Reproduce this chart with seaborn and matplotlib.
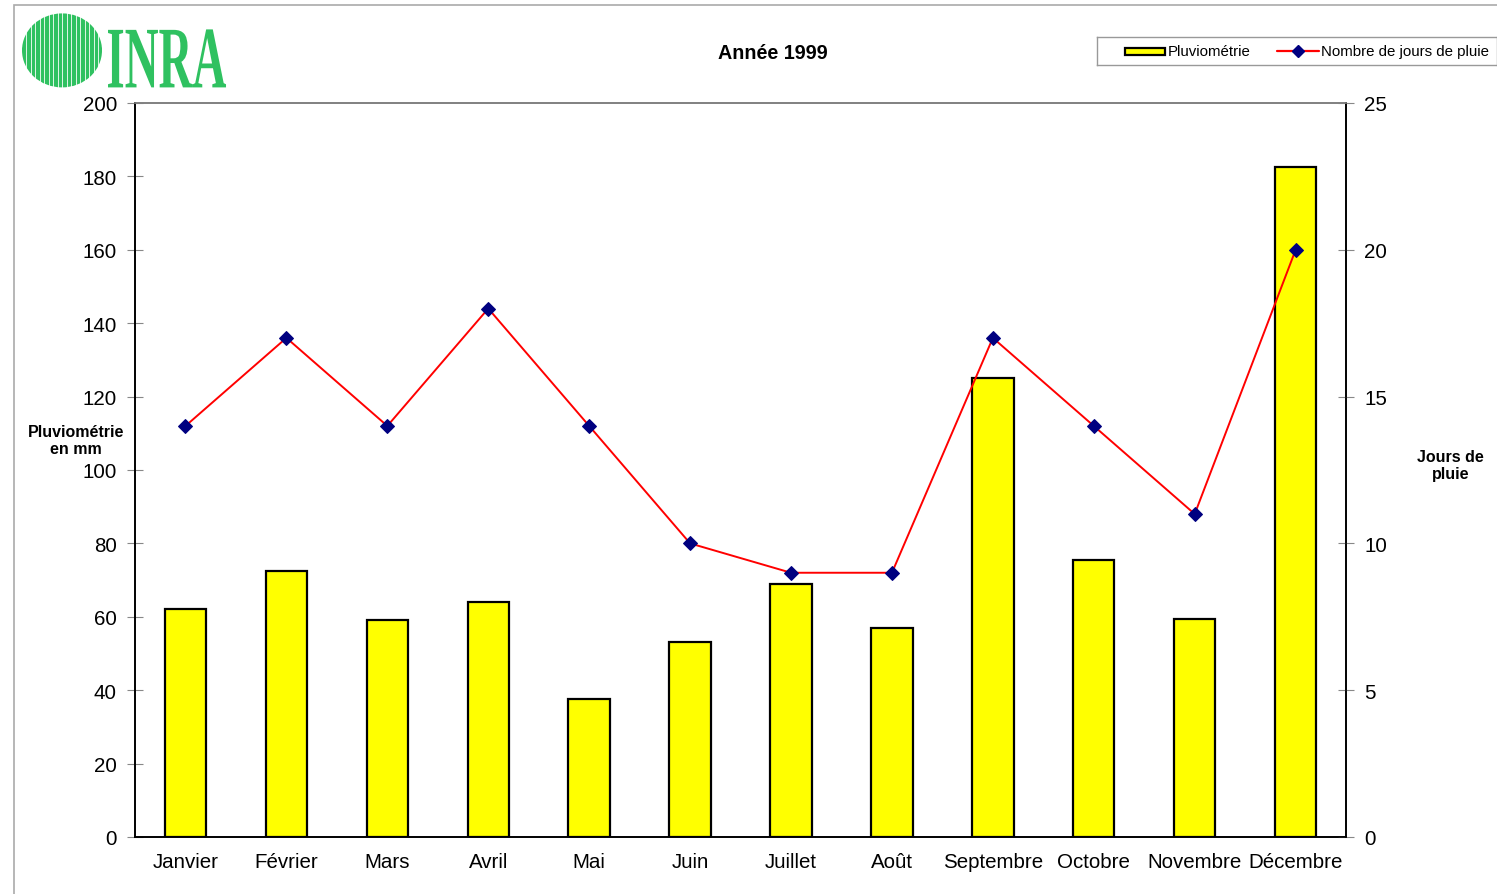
import numpy as np
import pandas as pd
import matplotlib.pyplot as plt
import seaborn as sns
from matplotlib.patches import Ellipse, Rectangle, PathPatch
from matplotlib.textpath import TextPath
from matplotlib.font_manager import FontProperties
from matplotlib.transforms import Affine2D

# Données
mois = ['Janvier', 'Février', 'Mars', 'Avril', 'Mai', 'Juin', 'Juillet',
        'Août', 'Septembre', 'Octobre', 'Novembre', 'Décembre']
pluviometrie = [62, 72.5, 59, 64, 37.5, 53, 69, 57, 125, 75.5, 59.5, 182.5]
jours_pluie = [14, 17, 14, 18, 14, 10, 9, 9, 17, 14, 11, 20]

df = pd.DataFrame({'mois': mois, 'pluie': pluviometrie, 'jours': jours_pluie})
df['pos'] = np.arange(len(mois))

sns.set_style('white')
plt.rcParams['font.family'] = ['Liberation Sans', 'DejaVu Sans']
plt.rcParams['text.color'] = 'black'
plt.rcParams['xtick.color'] = 'black'
plt.rcParams['ytick.color'] = 'black'

fig = plt.figure(figsize=(14.97, 8.95), dpi=100)
ax = fig.add_axes([0.0902, 0.0637, 0.809, 0.8201])

# Barres de pluviométrie
sns.barplot(data=df, x='mois', y='pluie', color='#FFFF00', width=0.41,
            edgecolor='black', linewidth=1.6, saturation=1, ax=ax)
ax.set_ylim(0, 200)
ax.set_yticks(np.arange(0, 201, 20))
ax.set_xlabel('')
ax.set_ylabel('')
ax.set_xticks(np.arange(len(mois)))
ax.set_xticklabels(mois, fontsize=14.8)
ax.tick_params(axis='x', length=0, pad=11, labelcolor='black')
ax.set_xticks(np.arange(len(mois) + 1) - 0.5, minor=True)
ax.tick_params(axis='x', which='minor', length=7, direction='inout', color='#888888')
ax.tick_params(axis='y', labelsize=14.8, length=12, direction='inout',
               color='#888888', pad=7, labelcolor='black')

# Courbe du nombre de jours de pluie
ax2 = ax.twinx()
sns.lineplot(data=df, x='pos', y='jours', color='red', linewidth=1.4,
             marker='D', markersize=7, markerfacecolor='#000080',
             markeredgecolor='#000080', ax=ax2)
ax2.set_ylim(0, 25)
ax2.set_yticks(np.arange(0, 26, 5))
ax2.set_ylabel('')
ax2.set_xlabel('')
ax2.tick_params(axis='y', labelsize=14.8, length=12, direction='inout',
                color='#888888', pad=7, labelcolor='black')
ax.set_xlim(-0.5, len(mois) - 0.5)

for a in (ax, ax2):
    for side in ('left', 'right', 'bottom'):
        a.spines[side].set_color('black')
        a.spines[side].set_linewidth(1.2)
    a.spines['top'].set_color('#808080')
    a.spines['top'].set_linewidth(1.2)

# Textes
fig.text(0.516, 0.940, 'Année 1999', ha='center', va='center',
         fontsize=14.2, fontweight='bold')
fig.text(0.0505, 0.5075, 'Pluviométrie\nen mm', ha='center', va='center',
         fontsize=11.5, fontweight='bold', linespacing=1.15)
fig.text(0.969, 0.4795, 'Jours de\npluie', ha='center', va='center',
         fontsize=11.5, fontweight='bold', linespacing=1.15)

# Légende
leg_ax = fig.add_axes([0.7328, 0.926, 0.2672, 0.032])
leg_ax.set_xlim(0, 400)
leg_ax.set_ylim(0, 28)
leg_ax.set_xticks([])
leg_ax.set_yticks([])
for s in leg_ax.spines.values():
    s.set_color('#999999')
    s.set_linewidth(1.0)
leg_ax.add_patch(Rectangle((28, 10), 40, 7, facecolor='#FFFF00',
                           edgecolor='black', linewidth=1.6))
leg_ax.text(71, 14, 'Pluviométrie', va='center', fontsize=10.8)
leg_ax.plot([180, 222], [14, 14], color='red', linewidth=1.6)
leg_ax.plot([201], [14], marker='D', markersize=6, color='#000080')
leg_ax.text(224, 14, 'Nombre de jours de pluie', va='center', fontsize=10.8)

# Logo INRA
vert = '#2fc160'
logo_ax = fig.add_axes([0.0, 0.88, 0.16, 0.12])
logo_ax.set_xlim(0, 239.5)
logo_ax.set_ylim(0, 107.4)
logo_ax.axis('off')
logo_ax.add_patch(Ellipse((62, 56), 80, 74, facecolor=vert, edgecolor='none'))
for xs in np.arange(26, 100, 4.5):
    logo_ax.plot([xs, xs], [18, 94], color='white', linewidth=0.7, alpha=0.85)
logo_ax.add_patch(Ellipse((62, 57), 80, 22, facecolor=vert, edgecolor='none'))
tp = TextPath((0, 0), 'INRA', size=50,
              prop=FontProperties(family='Liberation Serif', weight='bold'))
ext = tp.get_extents()
sx = 118 / ext.width
sy = 58 / ext.height
tr = Affine2D().translate(-ext.x0, -ext.y0).scale(sx, sy).translate(108, 19)
logo_ax.add_patch(PathPatch(tr.transform_path(tp), facecolor=vert, edgecolor='none'))

# Cadre extérieur gris
fig.add_artist(Rectangle((14 / 1497, -0.05), 1.1, 1 - 6 / 895 + 0.05,
                         transform=fig.transFigure, fill=False,
                         edgecolor='#aaaaaa', linewidth=1.2))

fig.savefig('out.png', dpi=100)
